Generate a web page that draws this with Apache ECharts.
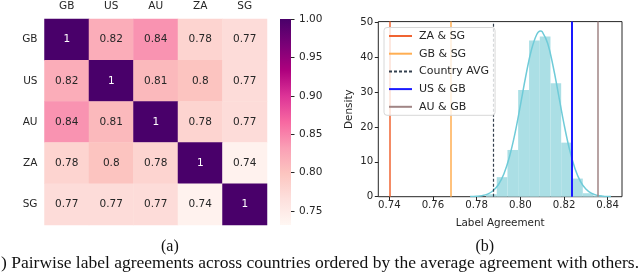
<!DOCTYPE html>
<html><head><meta charset="utf-8">
<script src="https://cdn.jsdelivr.net/npm/echarts@6/dist/echarts.min.js"></script>
<style>html,body{margin:0;padding:0;background:#fff}#c{width:640px;height:276px}</style>
</head><body><div id="c"></div>
<script>
// ---- Heatmap data (a) ----
const countries = ['GB', 'US', 'AU', 'ZA', 'SG'];
const agreementGB = [1, 0.82, 0.84, 0.78, 0.77];
const agreementUS = [0.82, 1, 0.81, 0.80, 0.77];
const agreementAU = [0.84, 0.81, 1, 0.78, 0.77];
const agreementZA = [0.78, 0.80, 0.78, 1, 0.74];
const agreementSG = [0.77, 0.77, 0.77, 0.74, 1];
const colorbarTicks = [0.75, 0.80, 0.85, 0.90, 0.95, 1.00];
const colorMin = 0.732;
const colorMax = 1.0;

// ---- Distribution data (b) ----
const histBinEdges = [0.7843, 0.7892, 0.7941, 0.7990, 0.8040, 0.8089, 0.8138, 0.8187, 0.8236, 0.8286, 0.8335, 0.8384];
const histDensity = [0.7, 5.6, 13.4, 30.6, 44.8, 45.9, 32.5, 15.5, 5.2, 1.0, 0.3];
const kdeX = [0.777, 0.780, 0.7825, 0.785, 0.7875, 0.790, 0.7925, 0.795, 0.7975, 0.800, 0.8025, 0.805, 0.8075, 0.8092, 0.810, 0.8125, 0.815, 0.8175, 0.820, 0.8225, 0.825, 0.8275, 0.830, 0.8325, 0.835, 0.8375, 0.840, 0.8415];
const kdeY = [0.03, 0.11, 0.30, 0.75, 1.7, 3.5, 6.6, 11.4, 18.0, 26.1, 34.6, 41.9, 46.5, 47.5, 47.3, 44.0, 37.4, 29.2, 20.8, 13.6, 8.1, 4.4, 2.2, 1.0, 0.42, 0.16, 0.06, 0.03];
const pairNames = ['ZA & SG', 'GB & SG', 'Country AVG', 'US & GB', 'AU & GB'];
const pairValues = [0.740, 0.7681, 0.7876, 0.8236, 0.8354];
const xTicks = [0.74, 0.76, 0.78, 0.80, 0.82, 0.84];
const yTicks = [0, 10, 20, 30, 40, 50];

// ---- styles ----
const RdPu = ['#fff7f3', '#fde0dd', '#fcc5c0', '#fa9fb5', '#f768a1', '#dd3497', '#ae017e', '#7a0177', '#49006a'];
const pairColors = ['#f06432', '#ffae52', '#34404e', '#1a1aff', '#a08585'];
const pairWidths = [1.5, 1.5, 1.2, 2, 1.5];
const pairTypes = ['solid', 'solid', [3, 2], 'solid', 'solid'];
const sans = 'DejaVu Sans';

const matrix = [agreementGB, agreementUS, agreementAU, agreementZA, agreementSG];
const heatData = [];
matrix.forEach((row, r) => row.forEach((v, c) => heatData.push([c, r, v])));

const histData = histDensity.map((h, i) => [histBinEdges[i], histBinEdges[i + 1], h]);
const kdeData = kdeX.map((x, i) => [x, kdeY[i]]);

const fmt2g = v => (v === 1 ? '1' : String(Number(v.toPrecision(2))));

const gradStops = RdPu.slice().reverse().map((c, i) => ({ offset: i / (RdPu.length - 1), color: c }));

const chart = echarts.init(document.getElementById('c'), null, { renderer: 'canvas' });

const vlineSeries = pairNames.map((name, i) => ({
  name: name,
  type: 'line',
  xAxisIndex: 2, yAxisIndex: 2,
  data: [],
  symbol: 'none',
  color: pairColors[i],
  lineStyle: { color: pairColors[i], width: pairWidths[i], type: pairTypes[i] },
  markLine: {
    silent: true, symbol: 'none', animation: false, precision: 6,
    label: { show: false },
    lineStyle: { color: pairColors[i], width: pairWidths[i], type: pairTypes[i] },
    data: [{ xAxis: pairValues[i] }]
  },
  z: 4
}));

chart.setOption({
  animation: false,
  backgroundColor: '#fff',
  textStyle: { fontFamily: sans },
  grid: [
    { left: 44.5, top: 19, width: 222.5, height: 206 },
    { left: 280, top: 19, width: 11, height: 206 },
    { left: 378.3, top: 21.6, width: 243.7, height: 175.1, show: true, borderColor: '#262626', borderWidth: 1, backgroundColor: 'transparent' }
  ],
  xAxis: [
    { gridIndex: 0, type: 'category', data: countries, position: 'top',
      axisLine: { show: false }, axisTick: { show: false },
      axisLabel: { color: '#262626', fontSize: 10.5, margin: 7 }, splitLine: { show: false } },
    { gridIndex: 1, type: 'category', data: [''], show: false },
    { gridIndex: 2, type: 'value', min: 0.73496, max: 0.84655,
      axisLine: { show: false },
      axisTick: { show: true, length: 3.5, inside: false, lineStyle: { color: '#262626' }, customValues: xTicks },
      axisLabel: { color: '#262626', fontSize: 10.2, margin: 4, customValues: xTicks, formatter: v => v.toFixed(2) },
      splitLine: { show: false },
      name: 'Label Agreement', nameLocation: 'middle', nameGap: 22,
      nameTextStyle: { color: '#262626', fontSize: 10.4 } }
  ],
  yAxis: [
    { gridIndex: 0, type: 'category', data: countries, inverse: true,
      axisLine: { show: false }, axisTick: { show: false },
      axisLabel: { color: '#262626', fontSize: 10.5, margin: 7 }, splitLine: { show: false } },
    { gridIndex: 1, type: 'value', min: colorMin, max: colorMax, position: 'right',
      axisLine: { show: false },
      axisTick: { show: true, length: 3.5, lineStyle: { color: '#262626' }, customValues: colorbarTicks },
      axisLabel: { color: '#262626', fontSize: 10.5, margin: 8, customValues: colorbarTicks, formatter: v => v.toFixed(2) },
      splitLine: { show: false } },
    { gridIndex: 2, type: 'value', min: 0, max: 50.2,
      axisLine: { show: false },
      axisTick: { show: true, length: 3.5, lineStyle: { color: '#262626' }, customValues: yTicks },
      axisLabel: { color: '#262626', fontSize: 10.2, margin: 5, customValues: yTicks },
      splitLine: { show: false },
      name: 'Density', nameLocation: 'middle', nameGap: 24, nameRotate: 90,
      nameTextStyle: { color: '#262626', fontSize: 10.4 } }
  ],
  visualMap: {
    show: false, seriesIndex: 0, min: colorMin, max: colorMax, dimension: 2,
    inRange: { color: RdPu }
  },
  legend: {
    data: pairNames.map(n => ({ name: n })),
    orient: 'vertical', left: 384, top: 27.5, itemWidth: 23, itemHeight: 10, itemGap: 6.7,
    padding: [3, 6, 3, 4],
    itemStyle: { opacity: 0 },
    backgroundColor: 'rgba(255,255,255,0.8)', borderColor: '#d8d8d8', borderWidth: 1, borderRadius: 3,
    textStyle: { color: '#262626', fontSize: 11, fontFamily: sans, padding: [0, 0, 0, 2] },
    selectedMode: false, z: 10
  },
  series: [
    { type: 'heatmap', xAxisIndex: 0, yAxisIndex: 0,
      data: heatData.map(d => ({ value: d, label: { color: d[2] > 0.9 ? '#ffffff' : '#262626' } })),
      label: { show: true, fontSize: 10.5, fontFamily: sans,
        formatter: p => fmt2g(p.value[2]) },
      itemStyle: { borderWidth: 0 },
      emphasis: { disabled: true } },
    { type: 'bar', xAxisIndex: 1, yAxisIndex: 1, stack: 'cb', data: [colorMin], barWidth: '100%',
      itemStyle: { color: 'transparent' }, silent: true },
    { type: 'bar', xAxisIndex: 1, yAxisIndex: 1, stack: 'cb', data: [colorMax - colorMin], barWidth: '100%',
      itemStyle: { color: new echarts.graphic.LinearGradient(0, 0, 0, 1, gradStops) }, silent: true },
    { type: 'custom', xAxisIndex: 2, yAxisIndex: 2, data: histData, encode: { x: [0, 1], y: 2 },
      renderItem: (params, api) => {
        const p0 = api.coord([api.value(0), api.value(2)]);
        const p1 = api.coord([api.value(1), 0]);
        return { type: 'rect', shape: { x: p0[0], y: p0[1], width: p1[0] - p0[0], height: p1[1] - p0[1] },
          style: { fill: '#abdfe5' } };
      }, z: 1, silent: true },
    { type: 'line', xAxisIndex: 2, yAxisIndex: 2, data: kdeData, smooth: 0.4, symbol: 'none',
      lineStyle: { color: '#6fcbd8', width: 1.5 }, z: 3, silent: true },
    ...vlineSeries
  ],
  graphic: [
    { type: 'text', left: 161, top: 239, style: { text: '(a)', font: '16px "Liberation Serif"', fill: '#111' } },
    { type: 'text', left: 475.5, top: 239, style: { text: '(b)', font: '16px "Liberation Serif"', fill: '#111' } },
    { type: 'text', left: 1, top: 254, style: { text: ') Pairwise label agreements across countries ordered by the average agreement with others.', font: '17.5px "Liberation Serif"', fill: '#111' } }
  ]
});
</script></body></html>
